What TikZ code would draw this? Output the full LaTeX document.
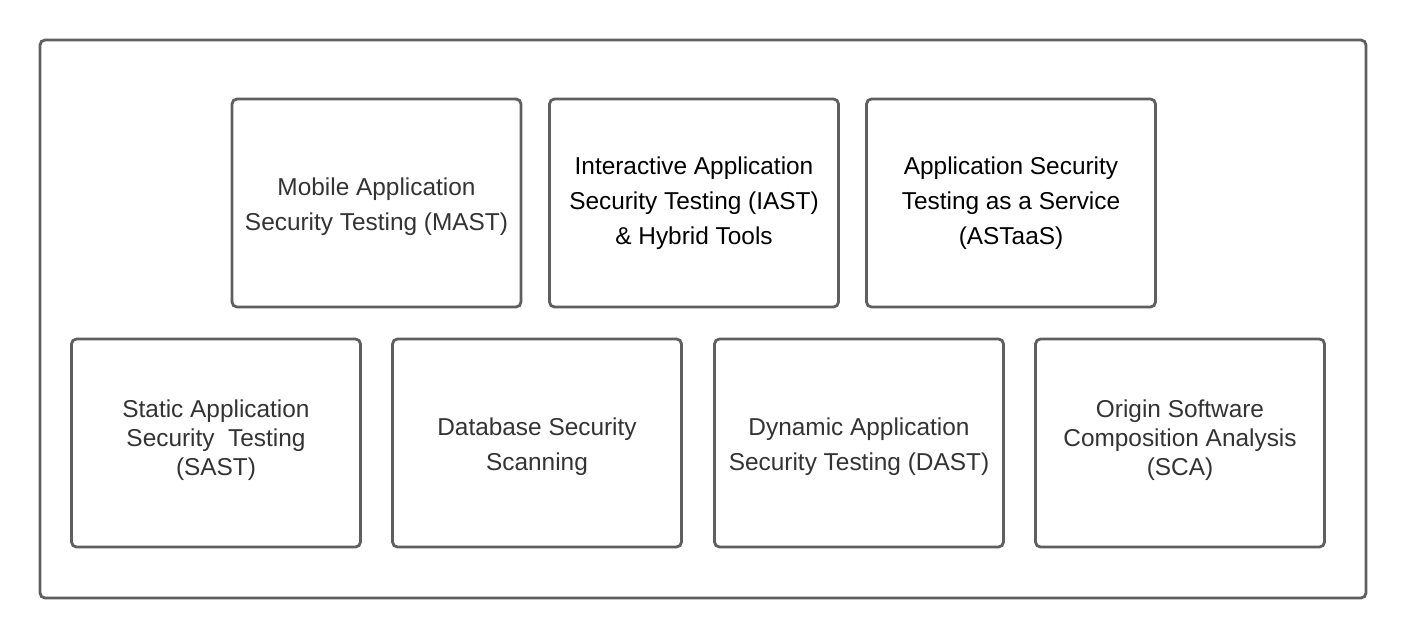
\documentclass[tikz,border=0pt]{standalone}
\usepackage{fontspec}
\setmainfont{Liberation Sans}
\definecolor{edgegray}{HTML}{5F5F5F}
\definecolor{txtgray}{HTML}{333333}
\tikzset{
  frame/.style={draw=edgegray, line width=2.8pt, rounded corners=5pt},
  card/.style={frame, minimum width=289pt, minimum height=208pt, inner sep=0pt,
    align=center, text=txtgray, font=\fontsize{24.4}{35}\selectfont},
  dark/.style={text=black},
  txt/.style={align=center, text=txtgray, inner sep=0pt, font=\fontsize{24.4}{35}\selectfont},
  tighttxt/.style={txt, font=\fontsize{24.4}{29}\selectfont}
}
\begin{document}
\begin{tikzpicture}[x=1pt,y=-1pt]
\useasboundingbox (0,0) rectangle (1406,638);
\fill[white] (0,0) rectangle (1406,638);
\node[frame, minimum width=1326pt, minimum height=558pt, inner sep=0pt] (outer) at (703,319) {};
% top row
\node[card, label={[txt, yshift=-4pt]center:{Mobile Application\\Security Testing (MAST)}}] (mast) at (376.5,203) {};
\node[card, dark] (iast) at (694,203) {Interactive Application\\Security Testing (IAST)\\\&~Hybrid Tools};
\node[card, dark] (astaas) at (1011,203) {Application Security\\Testing as a Service\\(ASTaaS)};
% bottom row
\node[card, label={[tighttxt, yshift=2.5pt]center:{Static Application\\Security~ Testing\\(SAST)}}] (sast) at (216,443) {};
\node[card, label={[txt, yshift=-4pt]center:{Database Security\\Scanning}}] (dbss) at (537,443) {};
\node[card, label={[txt, yshift=-4pt]center:{Dynamic Application\\Security Testing (DAST)}}] (dast) at (859,443) {};
\node[card, label={[tighttxt, yshift=2.5pt]center:{Origin Software\\Composition Analysis\\(SCA)}}] (sca) at (1180,443) {};
\end{tikzpicture}
\end{document}
